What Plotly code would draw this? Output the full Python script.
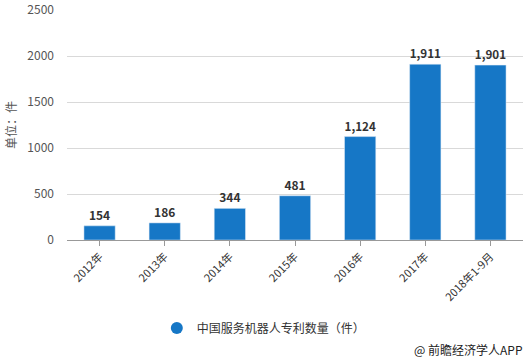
import plotly.graph_objects as go

categories = ["2012年", "2013年", "2014年", "2015年", "2016年", "2017年", "2018年1-9月"]
values = [154, 186, 344, 481, 1124, 1911, 1901]
series_name = "中国服务机器人专利数量（件）"
y_title = "单位：件"
source_text = "@ 前瞻经济学人APP"

bar_color = "#1677c6"
font_family = "Microsoft YaHei, Noto Sans CJK SC, sans-serif"

fig = go.Figure()
fig.add_trace(go.Bar(
    x=categories, y=values, marker_color=bar_color, showlegend=False,
    texttemplate="%{y:,}", textposition="outside", cliponaxis=False,
    textfont=dict(size=12, color="#333333", family="Noto Sans CJK SC", weight="bold"),
))
fig.add_trace(go.Scatter(
    x=[None], y=[None], mode="markers", name=series_name,
    marker=dict(symbol="circle", size=11, color=bar_color),
))

fig.update_layout(
    width=530, height=362,
    margin=dict(l=67, r=7, t=10, b=122, autoexpand=False),
    paper_bgcolor="white", plot_bgcolor="white",
    font=dict(family=font_family, color="#333333"),
    bargap=0.52,
    legend=dict(orientation="h", x=0.197, y=-0.383, xanchor="left", yanchor="middle",
                font=dict(size=12, color="#333333"), itemsizing="constant"),
    xaxis=dict(
        type="category", tickangle=-45, showline=True, linecolor="#999999", linewidth=1,
        ticks="outside", ticklen=5, tickcolor="#999999", automargin=False,
        tickfont=dict(size=11, color="#333333"), showgrid=False,
    ),
    yaxis=dict(
        range=[0, 2500], dtick=500, tickformat="d", showgrid=True, gridcolor="#d9d9d9",
        zeroline=False, tickfont=dict(size=12, color="#555555"), ticklabelstandoff=12,
        automargin=False,
    ),
    annotations=[
        dict(text=y_title, textangle=-90, xref="paper", yref="paper", x=-0.125, y=0.5,
             showarrow=False, font=dict(size=12, color="#555555"), xanchor="center", yanchor="middle"),
        dict(text=source_text, xref="paper", yref="paper", x=1.004, y=-0.478, xanchor="right",
             yanchor="middle", showarrow=False, font=dict(size=12, color="#222222")),
    ],
)

fig.write_html("out.html", config={"displayModeBar": False},
               post_script="document.body.style.margin='0';")
